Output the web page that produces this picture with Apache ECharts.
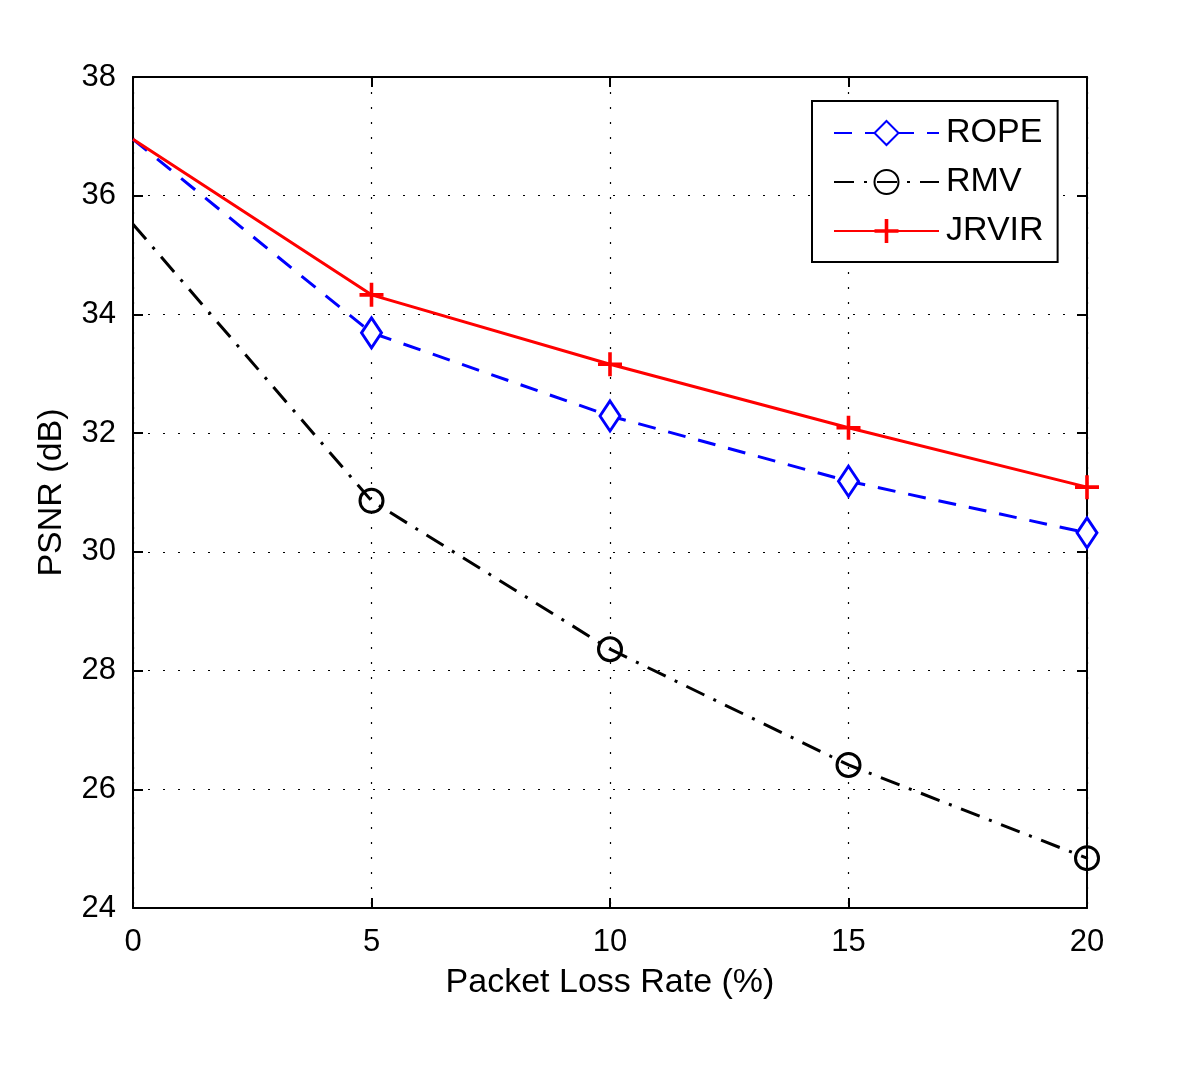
<!DOCTYPE html>
<html><head><meta charset="utf-8">
<script src="https://cdn.jsdelivr.net/npm/echarts@6/dist/echarts.min.js"></script>
<style>html,body{margin:0;padding:0;background:#fff}#c{width:1200px;height:1086px}</style>
</head><body><div id="c"></div>
<script>
const lossRates = [0, 5, 10, 15, 20];
const ropeValues = [36.95, 33.69, 32.29, 31.19, 30.32];
const rmvValues = [35.52, 30.86, 28.36, 26.41, 24.84];
const jrvirValues = [36.95, 34.33, 33.16, 32.09, 31.09];
const seriesNames = ['ROPE', 'RMV', 'JRVIR'];
const xTicks = [0, 5, 10, 15, 20];
const yTicks = [24, 26, 28, 30, 32, 34, 36, 38];

const FONT = '"Liberation Sans", Arial, sans-serif';
const plusPath = 'path://M-1.8,-12H1.8V-1.8H12V1.8H1.8V12H-1.8V1.8H-12V-1.8H-1.8Z';

function toData(vals) {
  return lossRates.map((x, i) => i === 0 ? { value: [x, vals[i]], symbol: 'none' } : [x, vals[i]]);
}

const axisCommon = {
  type: 'value',
  axisLine: { show: true, onZero: false, lineStyle: { color: '#000', width: 2 } },
  axisTick: { show: true, inside: true, length: 10, lineStyle: { color: '#000', width: 2 } },
  minorTick: { show: false }
};

const chart = echarts.init(document.getElementById('c'), null, { renderer: 'canvas' });
chart.setOption({
  backgroundColor: '#fff',
  animation: false,
  textStyle: { fontFamily: FONT },
  grid: { left: 133, right: 113, top: 77, bottom: 178, containLabel: false },
  xAxis: [
    Object.assign({}, axisCommon, {
      position: 'bottom', min: 0, max: 20, interval: 5,
      name: 'Packet Loss Rate (%)', nameLocation: 'middle', nameGap: 58,
      nameTextStyle: { color: '#000', fontSize: 34, fontFamily: FONT },
      axisLabel: { color: '#000', fontSize: 31, margin: 19, fontFamily: FONT,
        formatter: v => xTicks.includes(v) ? String(v) : '' },
      splitLine: { show: true, lineStyle: { color: '#000', width: 1.2, type: [2, 13] } }
    }),
    Object.assign({}, axisCommon, {
      position: 'top', min: 0, max: 20, interval: 5,
      axisLabel: { show: false }, splitLine: { show: false }
    })
  ],
  yAxis: [
    Object.assign({}, axisCommon, {
      position: 'left', min: 24, max: 38, interval: 2,
      name: 'PSNR (dB)', nameLocation: 'middle', nameGap: 64, nameRotate: 90,
      nameTextStyle: { color: '#000', fontSize: 34, fontFamily: FONT },
      axisLabel: { color: '#000', fontSize: 31, margin: 17, fontFamily: FONT,
        formatter: v => yTicks.includes(v) ? String(v) : '' },
      splitLine: { show: true, lineStyle: { color: '#000', width: 1.2, type: [2, 13] } }
    }),
    Object.assign({}, axisCommon, {
      position: 'right', min: 24, max: 38, interval: 2,
      axisLabel: { show: false }, splitLine: { show: false }
    })
  ],
  legend: {
    show: true,
    data: seriesNames,
    orient: 'vertical',
    left: 812, top: 101,
    backgroundColor: '#fff',
    borderColor: '#000', borderWidth: 2,
    padding: [15, 14, 14, 21],
    itemWidth: 105, itemHeight: 30, itemGap: 15,
    textStyle: { color: '#000', fontSize: 34, lineHeight: 30, fontFamily: FONT, padding: [0, 0, 0, 2] }
  },
  series: [
    {
      name: seriesNames[0], type: 'line', data: toData(ropeValues),
      symbol: 'diamond', symbolSize: [20, 30],
      lineStyle: { color: '#0000ff', width: 3, type: [18, 13] },
      itemStyle: { color: '#fff', borderColor: '#0000ff', borderWidth: 3 },
      z: 3
    },
    {
      name: seriesNames[1], type: 'line', data: toData(rmvValues),
      symbol: 'circle', symbolSize: 23,
      lineStyle: { color: '#000', width: 3, type: [20, 10, 3, 10] },
      itemStyle: { color: 'rgba(255,255,255,0)', borderColor: '#000', borderWidth: 3 },
      z: 3
    },
    {
      name: seriesNames[2], type: 'line', data: toData(jrvirValues),
      symbol: plusPath, symbolSize: 24,
      lineStyle: { color: '#ff0000', width: 3, type: 'solid' },
      itemStyle: { color: '#ff0000', borderWidth: 0 },
      z: 4
    }
  ]
});
</script></body></html>
